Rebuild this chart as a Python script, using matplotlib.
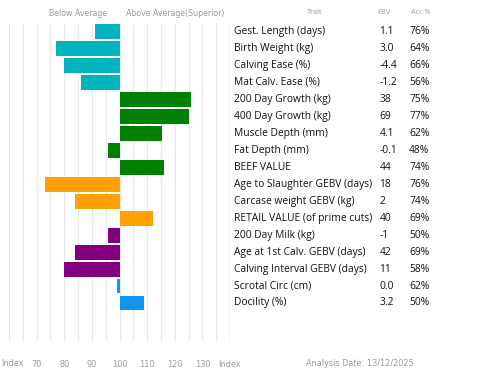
import matplotlib
matplotlib.use("Agg")
import matplotlib.pyplot as plt

# rasgos y valores
rasgos = ["Gest. Length (days)", "Birth Weight (kg)", "Calving Ease (%)", "Mat Calv. Ease (%)",
          "200 Day Growth (kg)", "400 Day Growth (kg)", "Muscle Depth (mm)", "Fat Depth (mm)",
          "BEEF VALUE", "Age to Slaughter GEBV (days)", "Carcase weight GEBV (kg)",
          "RETAIL VALUE (of prime cuts)", "200 Day Milk (kg)", "Age at 1st Calv. GEBV (days)",
          "Calving Interval GEBV (days)", "Scrotal Circ (cm)", "Docility (%)"]
ebv = ["1.1", "3.0", "-4.4", "-1.2", "38", "69", "4.1", "-0.1", "44", "18", "2", "40",
       "-1", "42", "11", "0.0", "3.2"]
acc = ["76%", "64%", "66%", "56%", "75%", "77%", "62%", "48%", "74%", "76%", "74%", "69%",
       "50%", "69%", "58%", "62%", "50%"]
indice = [91, 77, 80, 86, 126, 125, 115.5, 96, 116, 73, 84, 112, 96, 84, 80, 99, 109]
grupo = ["a", "a", "a", "a", "b", "b", "b", "b", "b", "c", "c", "c", "d", "d", "d", "e", "e"]

colores = {"a": "#00b3bd", "b": "#008000", "c": "#ffa000", "d": "#800080", "e": "#0f94f0"}
ticks = [70, 80, 90, 100, 110, 120, 130, 140]
tick_labels = ["70", "80", "90", "100", "110", "120", "130", "Index"]

fuente = ["Open Sans", "DejaVu Sans"]
gris = "#999999"

fig = plt.figure(figsize=(4.8, 3.78), dpi=100)
ax = fig.add_axes([9 / 480, 1 - 342 / 378, 221 / 480, 319 / 378])

n = len(rasgos)
for i in range(n):
    v = indice[i]
    ax.barh(i, v - 100, left=100, height=0.88, color=colores[grupo[i]], zorder=2)

for x in range(60, 141, 5):
    ax.axvline(x, color="#e8e8e8", lw=0.8, zorder=0)
ax.axvline(140, color="#d8d8d8", lw=1.0, zorder=1)

ax.set_xlim(60, 140)
ax.set_ylim(n + 1.3, -0.5)
ax.set_yticks([])
ax.set_xticks(ticks)
ax.set_xticklabels(tick_labels, fontsize=5.9, color=gris, family="DejaVu Sans")
ax.tick_params(axis="x", length=0, pad=13)
for s in ax.spines.values():
    s.set_visible(False)

tr = ax.get_yaxis_transform()
for i in range(n):
    ax.text(1.018, i, rasgos[i], transform=tr, fontsize=7.4, family=fuente,
            va="center", ha="left", color="#111111", clip_on=False)
    ax.text(1.677, i, ebv[i], transform=tr, fontsize=7.4, family=fuente,
            va="center", ha="left", color="#111111", clip_on=False)
    ax.text(1.81, i, acc[i], transform=tr, fontsize=7.4, family=fuente,
            va="center", ha="left", color="#111111", clip_on=False)

# encabezados
fig.text(78 / 480, 1 - 14 / 378, "Below Average", fontsize=5.7, color=gris,
         ha="center", va="center", family="DejaVu Sans")
fig.text(175 / 480, 1 - 14 / 378, "Above Average(Superior)", fontsize=5.7, color=gris,
         ha="center", va="center", family="DejaVu Sans")
fig.text(315 / 480, 1 - 13 / 378, "Trait", fontsize=5.2, color=gris,
         ha="center", va="center", family=fuente)
fig.text(384 / 480, 1 - 13 / 378, "EBV", fontsize=5.2, color=gris,
         ha="center", va="center", family=fuente)
fig.text(421 / 480, 1 - 13 / 378, "Acc %", fontsize=5.2, color=gris,
         ha="center", va="center", family=fuente)
# "Index" de la izquierda, pegado al borde
fig.text(1 / 480, 1 - 363 / 378, "Index", fontsize=5.9, color=gris,
         ha="left", va="center", family="DejaVu Sans")
fig.text(360 / 480, 1 - 363 / 378, "Analysis Date: 13/12/2025", fontsize=5.9, color=gris,
         ha="center", va="center", family="DejaVu Sans")

fig.savefig("out.png", dpi=100, facecolor="white")
